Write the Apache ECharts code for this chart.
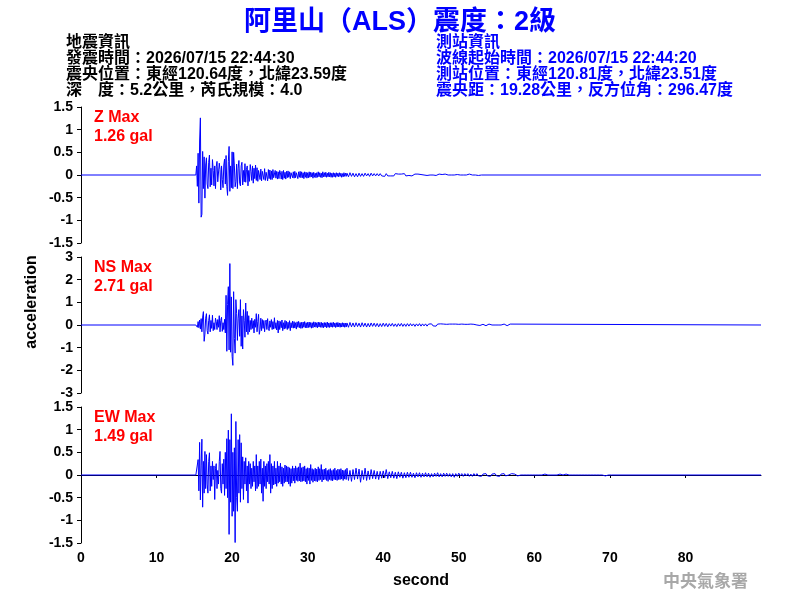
<!DOCTYPE html>
<html>
<head>
<meta charset="utf-8">
<title>阿里山（ALS）震度：2級</title>
<script src="https://cdn.jsdelivr.net/npm/echarts@6.0.0/dist/echarts.min.js"></script>
<style>
  html, body { margin: 0; padding: 0; background: #fff; }
  #chart { width: 800px; height: 600px; }
</style>
</head>
<body>
<div id="chart"></div>
<script>
// waveform samples (gal)
// strong part: one value every 0.1 s from strongStart; coda: every 0.2 s from codaStart
const strongStart = 15.2
const strongStep = 0.1
const codaStart = 35.2
const codaStep = 0.2
const xMax = 90

const zStrong = [
  0, 0.2, -0.25, 0.48, -0.62, 0.75, 1.26, -0.93, -0.87, 0.52,
  -0.3, 0.4, -0.51, 0.22, 0.38, -0.2, -0.3, 0.28, 0.44, -0.26,
  0.15, -0.22, 0.34, 0.1, -0.24, 0.2, -0.3, 0.18, 0.3, -0.15,
  -0.18, 0.26, 0.12, -0.33, 0.2, -0.1, -0.28, 0.22, 0.35, -0.2,
  0.43, -0.25, -0.45, 0.3, 0.63, -0.36, 0.2, -0.28, 0.51, -0.3,
  0.5, 0.2, -0.26, -0.15, 0.24, -0.3, 0.15, 0.32, -0.18, -0.24,
  0.2, 0.28, -0.22, 0.1, -0.15, 0.25, -0.16, 0.12, 0.2, -0.24,
  0.1, -0.14, 0.23, 0.08, -0.12, 0.2, -0.18, 0.15, -0.08, 0.22,
  -0.12, 0.16, -0.14, 0.1, 0.14, -0.1, 0.13, -0.13, 0.08, 0.12,
  -0.1, 0.14, -0.12, 0.06, 0.1, -0.13, 0.12, -0.08, 0.11, -0.1,
  0.09, -0.1, 0.12, -0.06, -0.08, 0.1, -0.07, 0.08, -0.09, 0.07,
  -0.08, 0.1, 0.05, -0.09, 0.08, -0.1, 0.1, -0.07, 0.06, -0.09,
  0.08, -0.06, 0.09, -0.05, 0.07, -0.08, 0.05, 0.09, -0.06, 0.07,
  -0.07, 0.08, -0.06, 0.05, 0.06, -0.08, 0.07, -0.05, 0.08, -0.06,
  0.07, -0.06, 0.05, -0.08, 0.07, -0.05, 0.06, -0.07, 0.05, -0.06,
  0.07, -0.05, 0.06, -0.04, 0.05, -0.07, 0.06, -0.05, 0.04, -0.06,
  0.05, -0.05, 0.07, -0.04, 0.05, -0.05, 0.04, -0.06, 0.07, -0.04,
  0.05, -0.04, 0.06, -0.05, 0.04, -0.04, 0.06, -0.04, 0.05, -0.05,
  0.04, -0.05, 0.05, -0.04, 0.04, -0.05, 0.05, -0.03, 0.04, -0.04,
  0.05, -0.03, 0.04, -0.05, 0.03, -0.04, 0.05, -0.03, 0.04, -0.03
]
const zCoda = [
  0.04, -0.04, 0.05, -0.03, 0.04, -0.04, 0.03, -0.04, 0.04, -0.03,
  0.03, -0.03, 0.04, -0.02, 0.03, -0.03, 0.04, -0.02, 0.03, -0.02,
  0.03, -0.02, 0.03, -0.02, 0.02, -0.03, 0.03, -0.02, 0.02, -0.02,
  0.02, -0.02, 0.03, -0.01, 0.02, -0.02, 0.02, -0.01, 0.03, -0.02,
  0.02, -0.01, 0.02, -0.02, 0.01, 0.02, -0.01, 0.02, -0.01, 0.01,
  0.02, 0, 0.01, -0.01, 0.02, 0, 0.01, 0, 0.02, -0.01,
  0, 0.02, 0, 0.01, 0, 0.02, 0, 0, 0.01, 0,
  0.02, 0, 0, 0.01, 0, 0, 0.02, 0, 0, 0,
  0, 0.02, 0, 0, 0.01, 0, 0.03, -0.01, 0, 0
]

const nsStrong = [
  0, 0.06, -0.1, 0.15, -0.12, 0.22, -0.18, 0.28, -0.3, 0.35,
  0.59, -0.72, -0.4, 0.3, 0.5, -0.25, -0.4, 0.2, 0.45, -0.3,
  0.2, -0.15, 0.43, -0.25, 0.1, -0.2, 0.3, 0.15, -0.2, 0.24,
  -0.1, 0.41, -0.3, 0.2, 0.34, -0.28, 0.1, -0.2, 0.25, -0.35,
  1.31, -1.16, 0.9, 1.69, -1.1, 2.71, -1.2, 1.24, -1.38, -1.78,
  1.47, -0.6, -1.24, 1.12, 0.5, -0.68, 0.3, 0.68, -0.5, 1.12,
  -0.94, 0.4, -1.06, 0.68, 0.2, -0.54, 0.97, -0.3, 0.6, -0.42,
  0.41, -0.3, 0.2, -0.2, 0.3, -0.15, 0.19, -0.35, 0.25, -0.1,
  0.5, -0.3, 0.15, 0.47, -0.41, -0.2, 0.3, -0.25, 0.24, -0.15,
  0.2, -0.3, 0.1, 0.22, -0.2, 0.28, -0.15, -0.25, 0.18, -0.1,
  0.24, -0.2, 0.15, -0.18, 0.32, -0.15, 0.1, -0.22, 0.2, -0.35,
  0.18, -0.2, 0.15, -0.12, 0.22, -0.25, 0.1, -0.18, 0.2, -0.15,
  0.16, -0.2, 0.12, -0.15, 0.19, -0.25, 0.1, -0.12, 0.17, -0.14,
  0.15, -0.13, 0.1, -0.18, 0.14, -0.1, 0.16, -0.12, 0.11, -0.15,
  0.12, -0.14, 0.13, -0.1, 0.15, -0.12, 0.1, -0.13, 0.12, -0.11,
  0.13, -0.1, 0.11, -0.14, 0.1, -0.12, 0.14, -0.09, 0.12, -0.1,
  0.1, -0.12, 0.13, -0.09, 0.11, -0.1, 0.12, -0.11, 0.09, -0.12,
  0.11, -0.09, 0.1, -0.12, 0.13, -0.1, 0.09, -0.11, 0.1, -0.09,
  0.1, -0.1, 0.12, -0.08, 0.09, -0.11, 0.1, -0.09, 0.11, -0.08,
  0.09, -0.1, 0.08, -0.09, 0.1, -0.08, 0.09, -0.1, 0.08, -0.09
]
const nsCoda = [
  0.09, -0.1, 0.11, -0.08, 0.09, -0.09, 0.1, -0.07, 0.08, -0.09,
  0.1, -0.07, 0.08, -0.09, 0.07, -0.08, 0.09, -0.06, 0.08, -0.07,
  0.07, -0.08, 0.06, -0.07, 0.08, -0.06, 0.07, -0.08, 0.06, -0.05,
  0.07, -0.06, 0.05, -0.07, 0.06, -0.05, 0.07, -0.06, 0.05, -0.06,
  0.06, -0.05, 0.06, -0.04, 0.05, -0.06, 0.05, -0.04, 0.06, -0.05,
  0.05, -0.04, 0.05, -0.05, 0.04, -0.03, 0.05, -0.04, 0.04, -0.05,
  0.04, -0.04, 0.05, -0.03, 0.04, -0.04, 0.03, -0.05, 0.04, -0.03,
  0.04, -0.03, 0.04, -0.04, 0.03, -0.03, 0.04, -0.02, 0.03, -0.04,
  0.03, -0.03, 0.04, 0, 0.03, -0.03, 0, 0.04, -0.02, 0,
  0.03, 0, -0.03, 0, 0.04, 0, 0, 0.03, 0, -0.04,
  0, 0.03, 0, 0, 0.04, 0, -0.03, 0, 0.04, 0
]

const ewStrong = [
  0, 0, 0, 0.34, -0.35, 0.72, -0.55, 0.2, 0.79, -0.71,
  0.3, -0.4, 0.52, -0.3, 0.45, -0.2, -0.4, 0.3, 0.49, -0.35,
  0.2, -0.25, 0.3, -0.1, 0.2, -0.54, 0.15, 0.25, -0.3, 0.1,
  -0.2, 0.3, 0.52, -0.3, -0.4, 0.25, -0.2, 0.35, -0.45, 0.5,
  -0.3, 0.8, -0.5, 0.99, -1.31, 0.78, -0.6, 1.35, -0.91, 0.5,
  -0.8, 0.6, -1.49, 1.18, -0.5, -0.8, 0.78, -0.4, 0.89, -0.6,
  0.71, -0.3, 0.4, -0.54, 0.3, -0.2, 0.38, -0.35, 0.2, -0.62,
  0.3, -0.2, 0.25, -0.3, 0.15, -0.25, 0.3, -0.15, 0.2, -0.35,
  0.45, -0.3, 0.2, -0.25, 0.3, -0.2, 0.35, -0.4, 0.15, -0.58,
  0.3, -0.25, 0.2, -0.3, 0.25, -0.15, 0.3, -0.2, 0.45, -0.4,
  0.25, -0.3, 0.2, -0.22, 0.3, -0.2, 0.15, -0.25, 0.3, -0.18,
  0.2, -0.15, 0.26, -0.2, 0.18, -0.25, 0.15, -0.18, 0.22, -0.15,
  0.2, -0.15, 0.18, -0.2, 0.16, -0.25, 0.14, -0.18, 0.2, -0.13,
  0.15, -0.18, 0.2, -0.12, 0.16, -0.14, 0.18, -0.13, 0.26, -0.15,
  0.16, -0.14, 0.18, -0.13, 0.2, -0.15, 0.14, -0.2, 0.16, -0.12,
  0.15, -0.2, 0.23, -0.12, 0.14, -0.16, 0.12, -0.13, 0.15, -0.14,
  0.13, -0.15, 0.18, -0.12, 0.14, -0.1, 0.23, -0.15, 0.12, -0.11,
  0.13, -0.1, 0.15, -0.12, 0.1, -0.14, 0.12, -0.1, 0.14, -0.12,
  0.1, -0.13, 0.12, -0.1, 0.15, -0.11, 0.1, -0.12, 0.13, -0.1,
  0.12, -0.1, 0.14, -0.09, 0.11, -0.12, 0.1, -0.09, 0.12, -0.1
]
const ewCoda = [
  0.15, -0.12, 0.1, -0.14, 0.12, -0.1, 0.15, -0.09, 0.13, -0.16,
  0.1, -0.1, 0.15, -0.12, 0.09, -0.1, 0.12, -0.08, 0.1, -0.09,
  0.08, -0.1, 0.08, -0.07, 0.09, -0.06, 0.12, -0.08, 0.07, -0.06,
  0.08, -0.07, 0.06, -0.08, 0.07, -0.05, 0.06, -0.07, 0.05, -0.06,
  0.06, -0.05, 0.06, -0.05, 0.04, -0.06, 0.05, -0.04, 0.05, -0.05,
  0.04, -0.04, 0.05, -0.04, 0.04, -0.05, 0.03, -0.04, 0.04, -0.03,
  0.05, -0.04, 0.03, -0.04, 0.04, -0.03, 0.04, -0.03, 0.03, -0.04,
  0.03, -0.05, 0.03, -0.03, 0.04, -0.02, 0.03, -0.03, 0.03, -0.02,
  0.03, -0.03, 0.02, -0.03, 0.03, -0.02, 0.03, -0.02, 0.02, -0.03,
  0.02, -0.02, 0.03, -0.02, 0.02, -0.03, 0.02, -0.02, 0.03, -0.02,
  0.02, -0.03, 0.02, 0, 0.03, -0.02, 0.02, 0, -0.02, 0.03,
  0, 0.02, 0, -0.02, 0, 0, 0.02, 0, 0, 0,
  0, 0, 0, 0, 0.02, 0, 0, 0, 0, 0,
  0, 0.02, -0.02, 0, 0.02, 0, 0, 0, 0, 0,
  0, 0.02, 0, 0, 0, 0.02, -0.02, 0, 0.02, 0,
  0, 0, 0, 0, 0, 0, 0, 0, 0, 0,
  0, 0, 0, 0, 0, 0, 0.02, 0, 0, 0,
  0, -0.02, 0, 0, -0.02, 0
]

const componentNames = ['Z', 'NS', 'EW']
const maxLabels = ['1.26 gal', '2.71 gal', '1.49 gal']
const yRanges = [1.5, 3, 1.5]
const yIntervals = [0.5, 1, 0.5]
const xTickInterval = 10

const quakeInfo = [
  '地震資訊',
  '發震時間：2026/07/15 22:44:30',
  '震央位置：東經120.64度，北緯23.59度',
  '深　度：5.2公里，芮氏規模：4.0'
]
const stationInfo = [
  '測站資訊',
  '波線起始時間：2026/07/15 22:44:20',
  '測站位置：東經120.81度，北緯23.51度',
  '震央距：19.28公里，反方位角：296.47度'
]

const FONT = "'Liberation Sans', Arial, 'Noto Sans CJK TC', sans-serif"

function toTrace (strong, coda) {
  const d = [[0, 0]]
  strong.forEach((v, i) => d.push([+(strongStart + i * strongStep).toFixed(2), v]))
  coda.forEach((v, i) => d.push([+(codaStart + i * codaStep).toFixed(2), v]))
  d.push([xMax, 0])
  return d
}

const traces = [
  toTrace(zStrong, zCoda),
  toTrace(nsStrong, nsCoda),
  toTrace(ewStrong, ewCoda)
]

const gridTops = [107, 257, 407]
const grids = gridTops.map(t => ({ left: 81, right: 39, top: t, height: 136 }))

const xAxes = grids.map((g, i) => ({
  gridIndex: i,
  type: 'value',
  min: 0,
  max: xMax,
  interval: xTickInterval,
  show: i === 2,
  name: i === 2 ? 'second' : '',
  nameLocation: 'middle',
  nameGap: 30,
  nameTextStyle: { color: '#000', fontSize: 16, fontWeight: 'bold', fontFamily: FONT },
  axisLine: { show: true, lineStyle: { color: '#000', width: 1 } },
  axisTick: { show: true, length: 3, lineStyle: { color: '#000' } },
  axisLabel: {
    color: '#000', fontSize: 14, fontWeight: 'bold', fontFamily: FONT,
    margin: 8, showMaxLabel: false
  },
  splitLine: { show: false }
}))

const yAxes = grids.map((g, i) => ({
  gridIndex: i,
  type: 'value',
  min: -yRanges[i],
  max: yRanges[i],
  interval: yIntervals[i],
  axisLine: { show: true, lineStyle: { color: '#000', width: 1 } },
  axisTick: { show: true, length: 4, lineStyle: { color: '#000' } },
  axisLabel: { color: '#000', fontSize: 14, fontWeight: 'bold', fontFamily: FONT, margin: 8 },
  splitLine: { show: false }
}))

const series = traces.map((d, i) => ({
  type: 'line',
  xAxisIndex: i,
  yAxisIndex: i,
  data: d,
  showSymbol: false,
  symbol: 'none',
  clip: true,
  lineStyle: { color: '#0000ff', width: 1 },
  silent: true
}))

const graphics = []
quakeInfo.forEach((t, i) => {
  graphics.push({
    type: 'text', x: 66, y: 43 + i * 16,
    style: { text: t, fill: '#000', font: 'bold 16px ' + FONT, textAlign: 'left', textVerticalAlign: 'middle' }
  })
})
stationInfo.forEach((t, i) => {
  graphics.push({
    type: 'text', x: 436, y: 43 + i * 16,
    style: { text: t, fill: '#0000ff', font: 'bold 16px ' + FONT, textAlign: 'left', textVerticalAlign: 'middle' }
  })
})
componentNames.forEach((c, i) => {
  graphics.push({
    type: 'text', x: 94, y: gridTops[i] + 11,
    style: { text: c + ' Max', fill: '#ff0000', font: 'bold 16px ' + FONT, textAlign: 'left', textVerticalAlign: 'middle' }
  })
  graphics.push({
    type: 'text', x: 94, y: gridTops[i] + 30,
    style: { text: maxLabels[i], fill: '#ff0000', font: 'bold 16px ' + FONT, textAlign: 'left', textVerticalAlign: 'middle' }
  })
})
graphics.push({
  type: 'text', x: 32, y: 302, rotation: Math.PI / 2,
  style: { text: 'acceleration', fill: '#000', font: 'bold 16px ' + FONT, textAlign: 'center', textVerticalAlign: 'middle' }
})
graphics.push({
  type: 'text', x: 748, y: 582,
  style: { text: '中央氣象署', fill: '#a8a8a8', font: 'bold 17px ' + FONT, textAlign: 'right', textVerticalAlign: 'middle' }
})

const chart = echarts.init(document.getElementById('chart'))
chart.setOption({
  animation: false,
  backgroundColor: '#fff',
  title: {
    text: '阿里山（ALS）震度：2級',
    left: 'center',
    top: 4,
    textStyle: { color: '#0000ff', fontSize: 27, fontWeight: 'bold', fontFamily: FONT }
  },
  grid: grids,
  xAxis: xAxes,
  yAxis: yAxes,
  series: series,
  graphic: graphics
})
</script>
</body>
</html>
